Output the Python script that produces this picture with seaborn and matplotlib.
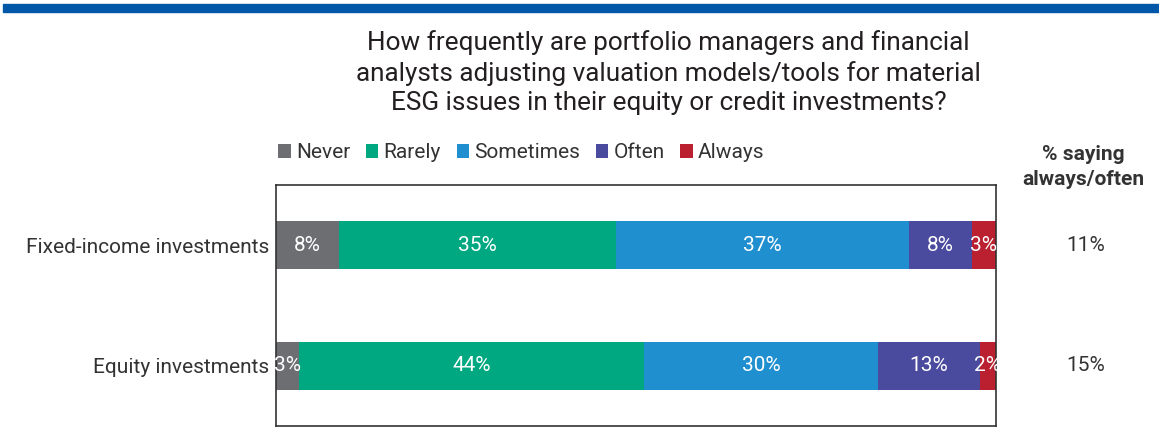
import matplotlib
matplotlib.use("Agg")
import matplotlib.pyplot as plt
import numpy as np
import pandas as pd
import seaborn as sns

# Données du graphique
categories = ["Fixed-income investments", "Equity investments"]
responses = ["Never", "Rarely", "Sometimes", "Often", "Always"]
never = [8, 3]
rarely = [35, 44]
sometimes = [37, 30]
often = [8, 13]
always = [3, 2]
always_often = ["11%", "15%"]
colors = ["#6D6E71", "#00A881", "#1F8FD0", "#4A4A9E", "#BA2030"]

title = ("How frequently are portfolio managers and financial\n"
         "analysts adjusting valuation models/tools for material\n"
         "ESG issues in their equity or credit investments?")

sns.set_theme(style="white")
plt.rcParams["font.family"] = ["Roboto", "DejaVu Sans"]
text_color = "#333333"
fs = 15

# Construction du DataFrame (parts des réponses par ligne)
df = pd.DataFrame({"category": categories, "Never": never, "Rarely": rarely,
                   "Sometimes": sometimes, "Often": often, "Always": always})
total = df[responses].sum(axis=1)
shares = df[responses].div(total, axis=0)
cum = shares.cumsum(axis=1)

fig = plt.figure(figsize=(11.59, 4.38), dpi=100)
ax = fig.add_axes([0.238, 0.027, 0.621, 0.551])

# Barres empilées : on trace les cumuls du plus grand au plus petit
for resp, col in reversed(list(zip(responses, colors))):
    sns.barplot(x=cum[resp], y=df["category"], color=col, width=0.4,
                orient="h", ax=ax, label=resp, saturation=1, edgecolor="none")
handles, labels = ax.get_legend_handles_labels()
if ax.get_legend() is not None:
    ax.get_legend().remove()

# Etiquettes dans les segments
for i in range(len(categories)):
    left = 0
    for resp in responses:
        w = shares.loc[i, resp]
        ax.text(left + w / 2, i, f"{df.loc[i, resp]}%", ha="center", va="center",
                color="white", fontsize=fs)
        left += w

ax.set_xlim(0, 1)
ax.set_ylim(1.5, -0.5)
ax.set_xlabel("")
ax.set_ylabel("")
ax.set_xticks([])
ax.tick_params(axis="y", length=0, pad=5, labelsize=fs, labelcolor=text_color)
for s in ax.spines.values():
    s.set_visible(True)
    s.set_color("#333333")
    s.set_linewidth(1.2)

# Légende
order = [labels.index(r) for r in responses]
fig.legend([handles[k] for k in order], responses, loc="center left",
           bbox_to_anchor=(0.233, 0.651), ncol=5, frameon=False, fontsize=fs,
           handlelength=0.6, handleheight=0.6, handletextpad=0.25,
           columnspacing=0.75, labelcolor=text_color, borderaxespad=0)

# Colonne de droite
fig.text(0.935, 0.619, "% saying\nalways/often", ha="center", va="center",
         fontsize=fs, fontweight="bold", color=text_color, linespacing=1.35)
for i, v in enumerate(always_often):
    ax.text(1.125, i, v, transform=ax.get_yaxis_transform(), ha="center",
            va="center", fontsize=fs, color=text_color)

# Titre
fig.text(0.577, 0.834, title, ha="center", va="center", fontsize=18.8,
         color="#231F20", linespacing=1.3)

# Bandeau bleu en haut
fig.patches.append(plt.Rectangle((0.003, 0.972), 0.997, 0.019, transform=fig.transFigure,
                                 color="#0057A8", zorder=5))

fig.savefig("out.png", dpi=100)
